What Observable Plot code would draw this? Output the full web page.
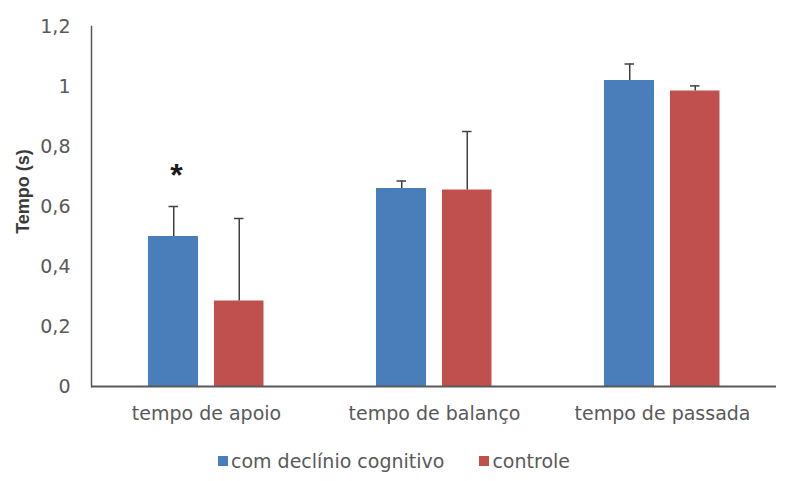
<!DOCTYPE html>
<html>
<head>
<meta charset="utf-8">
<script src="https://cdn.jsdelivr.net/npm/d3@7"></script>
<script src="https://cdn.jsdelivr.net/npm/@observablehq/plot@0.6"></script>
<style>
  html, body { margin: 0; padding: 0; background: #fff; }
  #chart { width: 792px; }
  .legend { display: flex; justify-content: center; align-items: center; gap: 35px; height: 41px;
            font-family: "DejaVu Sans", sans-serif; font-size: 19px; color: #595959; padding-right: 4px; }
  .legend .item { display: flex; align-items: center; gap: 3px; }
  .legend .sw { width: 10px; height: 10px; display: inline-block; }
</style>
</head>
<body>
<div id="chart"></div>
<script>
const categories = ["tempo de apoio", "tempo de balanço", "tempo de passada"];
const seriesNames = ["com declínio cognitivo", "controle"];
const declinio = [0.50, 0.66, 1.02];
const declinioErr = [0.10, 0.025, 0.055];
const controle = [0.285, 0.655, 0.985];
const controleErr = [0.275, 0.195, 0.017];
const significant = ["tempo de apoio"];
const yTicks = [0, 0.2, 0.4, 0.6, 0.8, 1, 1.2];
const colors = ["#4a7ebb", "#c0504d"];

const data = categories.map((c, i) => ({
  cat: c,
  a: declinio[i], aHi: declinio[i] + declinioErr[i],
  b: controle[i], bHi: controle[i] + controleErr[i]
}));

const fmt = d => String(d).replace(".", ",");

const chart = Plot.plot({
  width: 792, height: 440,
  marginTop: 26, marginBottom: 54, marginLeft: 91, marginRight: 16,
  style: { fontFamily: "DejaVu Sans, sans-serif", fontSize: "19px", color: "#595959", background: "white" },
  x: { domain: categories, padding: 0, label: null },
  y: { domain: [0, 1.2], label: null },
  marks: [
    Plot.axisY({ ticks: yTicks, tickSize: 0, tickPadding: 21, tickFormat: fmt, label: null, fill: "#595959" }),
    Plot.axisX({ tickSize: 0, tickPadding: 20, label: null, fill: "#595959" }),
    Plot.barY(data, { x: "cat", y: "a", fill: colors[0], insetLeft: 56, insetRight: 122 }),
    Plot.barY(data, { x: "cat", y: "b", fill: colors[1], insetLeft: 122, insetRight: 56.5 }),
    Plot.ruleX(data, { x: "cat", y1: "a", y2: "aHi", dx: -32.75, stroke: "#404040", strokeWidth: 1.5 }),
    Plot.ruleX(data, { x: "cat", y1: "b", y2: "bHi", dx: 32.75, stroke: "#404040", strokeWidth: 1.5 }),
    Plot.tickY(data, { x: "cat", y: "aHi", insetLeft: 76.5, insetRight: 142, stroke: "#404040", strokeWidth: 1.5 }),
    Plot.tickY(data, { x: "cat", y: "bHi", insetLeft: 142, insetRight: 76.5, stroke: "#404040", strokeWidth: 1.5 }),
    Plot.ruleY([0], { stroke: "#595959", strokeWidth: 2 }),
    Plot.frame({ anchor: "left", stroke: "#595959", strokeWidth: 1.5 }),
    Plot.text(data.filter(d => significant.includes(d.cat)), {
      x: "cat", y: "aHi", text: () => "*", dx: -30, dy: -31,
      fontSize: 32, fontWeight: "bold", fill: "#1a1a1a", fontFamily: "Liberation Sans, Arial, sans-serif"
    }),
    Plot.text(["Tempo (s)"], {
      frameAnchor: "left", rotate: -90, dx: -68, dy: -15, textAnchor: "middle", lineAnchor: "middle",
      fontSize: 18, fontWeight: "bold", fill: "#3a3a3a", fontFamily: "Liberation Sans, Arial, sans-serif"
    })
  ]
});

const root = document.getElementById("chart");
root.appendChild(chart);
const legend = document.createElement("div");
legend.className = "legend";
seriesNames.forEach((name, i) => {
  const item = document.createElement("span");
  item.className = "item";
  const sw = document.createElement("span");
  sw.className = "sw";
  sw.style.background = colors[i];
  const t = document.createElement("span");
  t.textContent = name;
  item.appendChild(sw); item.appendChild(t);
  legend.appendChild(item);
});
root.appendChild(legend);
</script>
</body>
</html>
